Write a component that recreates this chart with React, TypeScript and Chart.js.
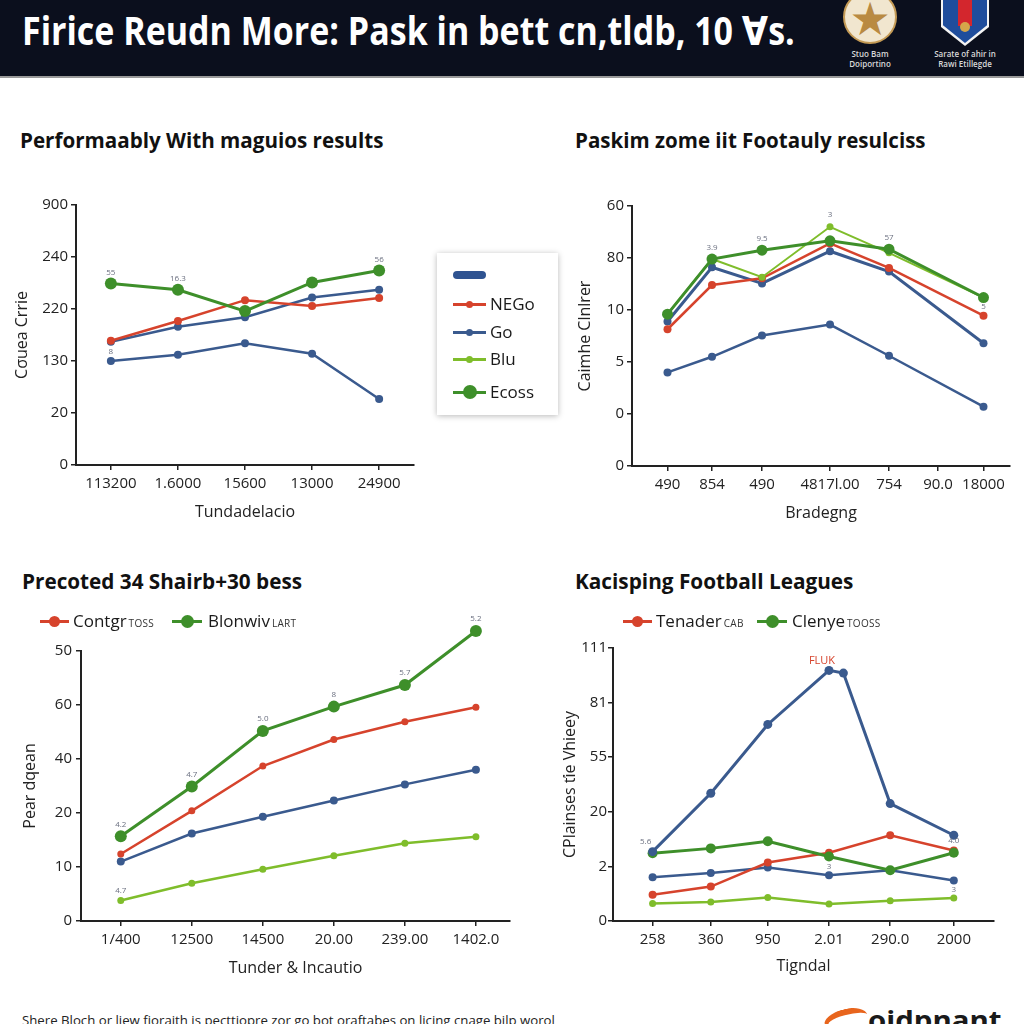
import React, { useEffect, useLayoutEffect, useRef, useState } from 'react';
import { Chart, registerables } from 'chart.js';

Chart.register(...registerables);

const FONT = "'Open Sans', 'DejaVu Sans', sans-serif";
Chart.defaults.font.family = FONT;

const RED = '#d6432c';
const BLUE = '#3a5a8e';
const DGREEN = '#3e8f2a';
const LGREEN = '#7fbd2b';

// ---------- Texts ----------
const headerTitle = 'Firice Reudn More: Pask in bett cn,tldb, 10 \u2C6Fs.';
const footerText = 'Shere Bloch or liew fioraith is pecttiopre zor go bot oraftabes on licing cnage bilp worol';
const footerBrand = 'oidpnant';

// ---------- Panel 1 ----------
const p1Title = 'Performaably With maguios results';
const p1Labels = ['113200', '1.6000', '15600', '13000', '24900'];
const p1Pos = [0, 1, 2, 3, 4];
const p1YTicks = ['0', '20', '130', '220', '240', '900'];
const p1Ecoss = [3.49, 3.37, 2.96, 3.51, 3.74];
const p1NEGo = [2.39, 2.77, 3.17, 3.06, 3.21];
const p1Go = [2.37, 2.66, 2.84, 3.22, 3.37];
const p1Team = [2.0, 2.12, 2.34, 2.14, 1.27];
const p1LegendNames = ['', 'NEGo', 'Go', 'Blu', 'Ecoss'];
const p1YTitle = 'C\u03C3uea Crrie';
const p1XTitle = 'Tundadelacio';

// ---------- Panel 2 ----------
const p2Title = 'Paskim zome iit Footauly resulciss';
const p2Labels = ['490', '854', '490', '4817l.00', '754', '90.0', '18000'];
const p2Pos = [0, 0.89, 1.89, 3.25, 4.43, 5.41, 6.32];
const p2PointIdx = [0, 1, 2, 3, 4, 6];
const p2YTicks = ['0', '0', '5', '10', '80', '60'];
const p2DarkGreen = [2.92, 3.98, 4.15, 4.33, 4.17, 3.24];
const p2LightGreen = [2.92, 3.98, 3.63, 4.6, 4.1, 3.24];
const p2Red = [2.63, 3.48, 3.61, 4.28, 3.81, 2.89];
const p2BlueUpper = [2.78, 3.82, 3.51, 4.13, 3.74, 2.36];
const p2BlueLower = [1.8, 2.1, 2.51, 2.72, 2.12, 1.14];
const p2YTitle = 'Caimhe Clnlrer';
const p2XTitle = 'Bradegng';

// ---------- Panel 3 ----------
const p3Title = 'Precoted 34 Shairb+30 bess';
const p3Labels = ['1/400', '12500', '14500', '20.00', '239.00', '1402.0'];
const p3Pos = [0, 1, 2, 3, 4, 5];
const p3YTicks = ['0', '10', '20', '40', '60', '50'];
const p3Green = [1.57, 2.49, 3.52, 3.97, 4.37, 5.37];
const p3Red = [1.24, 2.04, 2.87, 3.36, 3.69, 3.96];
const p3Blue = [1.1, 1.62, 1.93, 2.23, 2.53, 2.8];
const p3Light = [0.38, 0.7, 0.96, 1.21, 1.44, 1.56];
const p3Legend = [
  { name: 'Contgr', tag: 'TOSS' },
  { name: 'Blonwiv', tag: 'LART' },
];
const p3YTitle = 'Pear dqean';
const p3XTitle = 'Tunder & Incautio';

// ---------- Panel 4 ----------
const p4Title = 'Kacisping Football Leagues';
const p4Labels = ['258', '360', '950', '2.01', '290.0', '2000'];
const p4Pos = [0, 0.97, 1.92, 2.94, 3.96, 5.02];
const p4YTicks = ['0', '2', '20', '55', '81', '111'];
const p4BlueX = [0, 0.97, 1.92, 2.94, 3.18, 3.96, 5.02];
const p4Blue = [1.27, 2.34, 3.6, 4.59, 4.54, 2.15, 1.57];
const p4Green = [1.24, 1.33, 1.46, 1.18, 0.93, 1.25];
const p4Red = [0.48, 0.63, 1.07, 1.25, 1.57, 1.29];
const p4BlueLow = [0.8, 0.88, 0.98, 0.84, 0.93, 0.74];
const p4Light = [0.32, 0.35, 0.43, 0.31, 0.37, 0.42];
const p4Legend = [
  { name: 'Tenader', tag: 'CAB' },
  { name: 'Clenye', tag: 'TOOSS' },
];
const p4YTitle = 'CPlainses \u0165ie Vhieey';
const p4XTitle = 'Tigndal';
const p4PeakNote = 'FLUK';

const yPos = [0, 1, 2, 3, 4, 5];

// ---------- helpers ----------
function mk(label: string, xs: number[], ys: number[], color: string, r = 3.5, w = 2.5) {
  return {
    label,
    data: ys.map((y, i) => ({ x: xs[i], y })),
    borderColor: color,
    backgroundColor: color,
    pointBackgroundColor: color,
    pointBorderColor: color,
    borderWidth: w,
    pointRadius: r,
    pointHoverRadius: r,
    pointBorderWidth: 0,
    tension: 0,
    fill: false,
    clip: false as any,
  };
}

type Note = { ds: number; i: number; text: string; dx?: number; dy?: number; color?: string; size?: number; bold?: boolean };

function extrasPlugin(items: Note[]) {
  return {
    id: 'extras',
    afterDatasetsDraw(chart: any) {
      const ctx = chart.ctx;
      const area = chart.chartArea;
      // points lying outside the chart area (the library skips them)
      chart.data.datasets.forEach((_ds: any, di: number) => {
        const meta = chart.getDatasetMeta(di);
        meta.data.forEach((el: any) => {
          const o = el.options || {};
          const r = o.radius || 0;
          const m = r + 0.5;
          const outside =
            el.x < area.left - m || el.x > area.right + m || el.y < area.top - m || el.y > area.bottom + m;
          if (outside && r > 0) {
            ctx.save();
            ctx.beginPath();
            ctx.arc(el.x, el.y, r, 0, Math.PI * 2);
            ctx.fillStyle = o.backgroundColor;
            ctx.fill();
            ctx.restore();
          }
        });
      });
      items.forEach((n) => {
        const el = chart.getDatasetMeta(n.ds).data[n.i];
        if (!el) return;
        ctx.save();
        ctx.font = `${n.bold ? '600 ' : ''}${n.size || 8}px ${FONT}`;
        ctx.fillStyle = n.color || '#6b7080';
        ctx.textAlign = 'center';
        ctx.textBaseline = 'middle';
        ctx.fillText(n.text, el.x + (n.dx || 0), el.y + (n.dy ?? -11));
        ctx.restore();
      });
    },
  };
}

type Spec = {
  canvas: { x: number; y: number; w: number; h: number };
  area: { l: number; t: number; r: number; b: number };
  yTitleX: number;
  xTitleY: number;
  xMin: number;
  xMax: number;
  xPos: number[];
  xLabels: string[];
  yLabels: string[];
  yTitle: string;
  xTitle: string;
  datasets: any[];
  notes: Note[];
  yTickPad?: number;
};

function buildConfig(spec: Spec) {
  const tf = 16;
  const tlh = tf * 1.2;
  const padLeft = spec.yTitleX - spec.canvas.x - tlh / 2;
  const yWidth = spec.area.l - spec.canvas.x - padLeft;
  const padTop = spec.area.t - spec.canvas.y;
  const padRight = spec.canvas.x + spec.canvas.w - spec.area.r;
  const xBottom = spec.xTitleY + tlh / 2;
  const xHeight = xBottom - spec.area.b;
  const padBottom = spec.canvas.y + spec.canvas.h - xBottom;
  const tickFont = { family: FONT, size: 15 };
  const gridCfg = { drawOnChartArea: false, drawTicks: true, tickLength: 5, color: '#222', lineWidth: 1.5 };
  const borderCfg = { display: true, color: '#222', width: 2 };
  return {
    type: 'line' as const,
    data: { datasets: spec.datasets },
    options: {
      responsive: false,
      animation: false as const,
      events: [],
      layout: { padding: { left: padLeft, top: padTop, right: padRight, bottom: padBottom } },
      plugins: { legend: { display: false }, tooltip: { enabled: false } },
      scales: {
        x: {
          type: 'linear' as const,
          min: spec.xMin,
          max: spec.xMax,
          afterBuildTicks: (s: any) => {
            s.ticks = spec.xPos.map((v) => ({ value: v }));
          },
          afterFit: (s: any) => {
            s.height = xHeight;
          },
          ticks: {
            autoSkip: false,
            maxRotation: 0,
            padding: 5,
            color: '#222',
            font: tickFont,
            callback: (_v: any, i: number) => spec.xLabels[i],
          },
          grid: gridCfg,
          border: borderCfg,
          title: { display: true, text: spec.xTitle, color: '#222', font: { family: FONT, size: tf }, padding: 0 },
        },
        y: {
          type: 'linear' as const,
          min: 0,
          max: 5,
          afterBuildTicks: (s: any) => {
            s.ticks = yPos.map((v) => ({ value: v }));
          },
          afterFit: (s: any) => {
            s.width = yWidth;
          },
          ticks: {
            autoSkip: false,
            padding: spec.yTickPad ?? 3,
            color: '#222',
            font: tickFont,
            callback: (_v: any, i: number) => spec.yLabels[i],
          },
          grid: gridCfg,
          border: borderCfg,
          title: { display: true, text: spec.yTitle, color: '#222', font: { family: FONT, size: tf }, padding: 0 },
        },
      },
    },
    plugins: [extrasPlugin(spec.notes)],
  };
}

function LineChart({ spec }: { spec: Spec }) {
  const ref = useRef<HTMLCanvasElement>(null);
  useEffect(() => {
    if (!ref.current) return;
    const c = new Chart(ref.current, buildConfig(spec) as any);
    return () => c.destroy();
  }, []);
  const { x, y, w, h } = spec.canvas;
  return (
    <canvas
      ref={ref}
      width={w}
      height={h}
      style={{ position: 'absolute', left: x, top: y, width: w, height: h }}
    />
  );
}

function FitText({ text, left, top, width, size, weight = 700, color = '#111', letterSpacing = 0 }: any) {
  const ref = useRef<HTMLSpanElement>(null);
  const [sx, setSx] = useState(1);
  useLayoutEffect(() => {
    if (ref.current) {
      const w = ref.current.offsetWidth;
      if (w > 0) setSx(width / w);
    }
  }, []);
  return (
    <span
      ref={ref}
      style={{
        position: 'absolute',
        left,
        top,
        fontFamily: FONT,
        fontSize: size,
        fontWeight: weight,
        color,
        lineHeight: 1,
        whiteSpace: 'nowrap',
        letterSpacing,
        transform: `scaleX(${sx})`,
        transformOrigin: 'left top',
      }}
    >
      {text}
    </span>
  );
}

function Marker({ x, y, w, color, r }: any) {
  return (
    <>
      <div style={{ position: 'absolute', left: x, top: y - 1.5, width: w, height: 3, background: color }} />
      <div
        style={{
          position: 'absolute',
          left: x + w / 2 - r,
          top: y - r,
          width: r * 2,
          height: r * 2,
          borderRadius: '50%',
          background: color,
        }}
      />
    </>
  );
}

function LegendEntry({ x, y, w, color, r, name, tag, textX }: any) {
  return (
    <>
      <Marker x={x} y={y} w={w} color={color} r={r} />
      <span
        style={{
          position: 'absolute',
          left: textX,
          top: y - 11,
          fontFamily: FONT,
          fontSize: 17,
          lineHeight: '22px',
          color: '#1a1a1a',
          whiteSpace: 'nowrap',
        }}
      >
        {name}
        {tag ? (
          <span style={{ fontSize: 10, marginLeft: 2, letterSpacing: 0.3, color: '#333' }}>{tag}</span>
        ) : null}
      </span>
    </>
  );
}

// ---------- specs ----------
const spec1: Spec = {
  canvas: { x: 0, y: 190, w: 440, h: 340 },
  area: { l: 76, t: 205, r: 414, b: 465 },
  yTitleX: 22,
  xTitleY: 512,
  xMin: -0.52,
  xMax: 4.52,
  xPos: p1Pos,
  xLabels: p1Labels,
  yLabels: p1YTicks,
  yTitle: p1YTitle,
  xTitle: p1XTitle,
  datasets: [
    mk('Ecoss', p1Pos, p1Ecoss, DGREEN, 6, 3),
    mk('NEGo', p1Pos, p1NEGo, RED, 4, 2.5),
    mk('Go', p1Pos, p1Go, BLUE, 4, 2.5),
    mk('Team', p1Pos, p1Team, BLUE, 4, 2.5),
  ],
  notes: [
    { ds: 0, i: 0, text: '55' },
    { ds: 0, i: 1, text: '16.3' },
    { ds: 0, i: 4, text: '56' },
    { ds: 2, i: 0, text: '8', dy: 10 },
  ],
};

const spec2: Spec = {
  canvas: { x: 560, y: 190, w: 464, h: 340 },
  area: { l: 632, t: 206, r: 1010, b: 466 },
  yTitleX: 585,
  xTitleY: 513,
  xMin: -0.71,
  xMax: 6.85,
  xPos: p2Pos,
  xLabels: p2Labels,
  yLabels: p2YTicks,
  yTitle: p2YTitle,
  xTitle: p2XTitle,
  datasets: [
    mk('Dark green', p2PointIdx.map((k) => p2Pos[k]), p2DarkGreen, DGREEN, 5.5, 3),
    mk('Light green', p2PointIdx.map((k) => p2Pos[k]), p2LightGreen, LGREEN, 3.5, 2),
    mk('Red', p2PointIdx.map((k) => p2Pos[k]), p2Red, RED, 4, 2.5),
    mk('Blue', p2PointIdx.map((k) => p2Pos[k]), p2BlueUpper, BLUE, 4, 3),
    mk('Blue 2', p2PointIdx.map((k) => p2Pos[k]), p2BlueLower, BLUE, 4, 2.5),
  ],
  notes: [
    { ds: 0, i: 1, text: '3.9' },
    { ds: 0, i: 2, text: '9.5' },
    { ds: 1, i: 3, text: '3', dy: -12 },
    { ds: 0, i: 4, text: '57' },
    { ds: 2, i: 5, text: '5', dy: -9 },
  ],
};

const spec3: Spec = {
  canvas: { x: 0, y: 600, w: 520, h: 390 },
  area: { l: 81, t: 651, r: 510, b: 921 },
  yTitleX: 30,
  xTitleY: 968,
  xMin: -0.56,
  xMax: 5.48,
  xPos: p3Pos,
  xLabels: p3Labels,
  yLabels: p3YTicks,
  yTitle: p3YTitle,
  xTitle: p3XTitle,
  yTickPad: 4,
  datasets: [
    mk(p3Legend[1].name, p3Pos, p3Green, DGREEN, 6, 3),
    mk(p3Legend[0].name, p3Pos, p3Red, RED, 3.5, 2.5),
    mk('Blue', p3Pos, p3Blue, BLUE, 4, 2.5),
    mk('Light', p3Pos, p3Light, LGREEN, 3.5, 2.5),
  ],
  notes: [
    { ds: 0, i: 0, text: '4.2', dy: -12 },
    { ds: 0, i: 1, text: '4.7', dy: -12 },
    { ds: 0, i: 2, text: '5.0', dy: -12 },
    { ds: 0, i: 3, text: '8', dy: -12 },
    { ds: 0, i: 4, text: '5.7', dy: -12 },
    { ds: 0, i: 5, text: '5.2', dy: -12 },
    { ds: 3, i: 0, text: '4.7', dy: -10 },
  ],
};

const spec4: Spec = {
  canvas: { x: 540, y: 600, w: 484, h: 390 },
  area: { l: 613, t: 648, r: 994, b: 921 },
  yTitleX: 570,
  xTitleY: 966,
  xMin: -0.66,
  xMax: 5.69,
  xPos: p4Pos,
  xLabels: p4Labels,
  yLabels: p4YTicks,
  yTitle: p4YTitle,
  xTitle: p4XTitle,
  yTickPad: 1,
  datasets: [
    mk('Blue', p4BlueX, p4Blue, BLUE, 4.5, 3),
    mk(p4Legend[1].name, p4Pos, p4Green, DGREEN, 5, 3),
    mk(p4Legend[0].name, p4Pos, p4Red, RED, 4, 2.5),
    mk('Blue 2', p4Pos, p4BlueLow, BLUE, 4, 2.5),
    mk('Light', p4Pos, p4Light, LGREEN, 3.5, 2.5),
  ],
  notes: [
    { ds: 0, i: 3, text: p4PeakNote, dx: -7, dy: -10, color: RED, size: 11 },
    { ds: 0, i: 0, text: '5.6', dx: -7, dy: -10 },
    { ds: 2, i: 5, text: '4.0', dy: -10 },
    { ds: 1, i: 3, text: '3', dy: 10 },
    { ds: 3, i: 5, text: '3', dy: 9 },
  ],
};

function HeaderLogos() {
  return (
    <>
      <div
        style={{
          position: 'absolute',
          left: 843,
          top: -10,
          width: 54,
          height: 54,
          borderRadius: '50%',
          background: '#f1e6cf',
          border: '2px solid #c49a55',
          boxSizing: 'border-box',
          overflow: 'hidden',
        }}
      >
        <div
          style={{
            position: 'absolute',
            left: 0,
            top: 4,
            width: 50,
            textAlign: 'center',
            fontSize: 46,
            lineHeight: '46px',
            color: '#b98a42',
            fontFamily: "'DejaVu Sans', sans-serif",
          }}
        >
          {'\u2605'}
        </div>
      </div>
      <div style={{ position: 'absolute', left: 830, top: 49, width: 80, textAlign: 'center', color: '#d8d8d8', fontFamily: FONT, fontSize: 8, lineHeight: '10px', fontWeight: 600 }}>
        Stuo Bam
        <br />
        Doiportino
      </div>
      <div
        style={{
          position: 'absolute',
          left: 941,
          top: -4,
          width: 48,
          height: 50,
          background: '#f4f4f4',
          clipPath: 'polygon(0 0,100% 0,100% 62%,50% 100%,0 62%)',
        }}
      >
        <div
          style={{
            position: 'absolute',
            left: 2,
            top: 0,
            width: 44,
            height: 47,
            background: '#1f4d9c',
            clipPath: 'polygon(0 0,100% 0,100% 62%,50% 100%,0 62%)',
          }}
        >
          <div style={{ position: 'absolute', left: 15, top: 0, width: 14, height: 30, background: '#d3262d' }} />
          <div style={{ position: 'absolute', left: 17, top: 26, width: 10, height: 10, borderRadius: '50%', background: '#d6a54a' }} />
        </div>
      </div>
      <div style={{ position: 'absolute', left: 915, top: 49, width: 100, textAlign: 'center', color: '#d8d8d8', fontFamily: FONT, fontSize: 8, lineHeight: '10px', fontWeight: 600 }}>
        Sarate of ahir in
        <br />
        Rawi Etillegde
      </div>
    </>
  );
}

export default function App() {
  return (
    <div
      style={{
        position: 'absolute',
        left: 0,
        top: 0,
        width: 1024,
        height: 1024,
        background: '#ffffff',
        overflow: 'hidden',
        fontFamily: FONT,
      }}
    >
      {/* header */}
      <div style={{ position: 'absolute', left: 0, top: 0, width: 1024, height: 76, background: '#0b0f1d', borderBottom: '2px solid #9a9a9a' }} />
      <FitText text={headerTitle} left={22} top={10.4} width={773} size={39} color="#ffffff" />
      <HeaderLogos />

      {/* panel titles */}
      <FitText text={p1Title} left={20} top={130.4} width={363} size={21} />
      <FitText text={p2Title} left={575} top={130.4} width={351} size={21} />
      <FitText text={p3Title} left={22} top={571.4} width={280} size={21} />
      <FitText text={p4Title} left={575} top={571.4} width={278} size={21} />

      {/* charts */}
      <LineChart spec={spec1} />
      <LineChart spec={spec2} />
      <LineChart spec={spec3} />
      <LineChart spec={spec4} />

      {/* panel 1 legend box */}
      <div
        style={{
          position: 'absolute',
          left: 437,
          top: 253,
          width: 121,
          height: 162,
          background: '#fff',
          boxShadow: '0 1px 6px rgba(0,0,0,0.28)',
        }}
      />
      <div style={{ position: 'absolute', left: 453, top: 271, width: 33, height: 8, borderRadius: 4, background: '#2f5391' }} title={p1LegendNames[0]} />
      <LegendEntry x={453} y={304} w={33} color={RED} r={3.5} name={p1LegendNames[1]} textX={490} />
      <LegendEntry x={453} y={332} w={33} color={BLUE} r={3.5} name={p1LegendNames[2]} textX={490} />
      <LegendEntry x={453} y={359} w={33} color={LGREEN} r={3.5} name={p1LegendNames[3]} textX={490} />
      <LegendEntry x={453} y={392} w={33} color={DGREEN} r={7} name={p1LegendNames[4]} textX={490} />

      {/* panel 3 legend */}
      <LegendEntry x={40} y={621} w={29} color={RED} r={5.5} name={p3Legend[0].name} tag={p3Legend[0].tag} textX={73} />
      <LegendEntry x={172} y={621} w={30} color={DGREEN} r={6.5} name={p3Legend[1].name} tag={p3Legend[1].tag} textX={208} />

      {/* panel 4 legend */}
      <LegendEntry x={623} y={621} w={29} color={RED} r={5.5} name={p4Legend[0].name} tag={p4Legend[0].tag} textX={656} />
      <LegendEntry x={757} y={621} w={30} color={DGREEN} r={6.5} name={p4Legend[1].name} tag={p4Legend[1].tag} textX={792} />

      {/* footer */}
      <FitText text={footerText} left={22} top={1015} width={533} size={12} weight={400} color="#222" />
      <div
        style={{
          position: 'absolute',
          left: 824,
          top: 1009,
          width: 44,
          height: 22,
          borderRadius: '50%',
          borderTop: '6px solid #e8651d',
          borderLeft: '4px solid #e8651d',
          boxSizing: 'border-box',
          transform: 'rotate(-14deg)',
        }}
      />
      <FitText text={footerBrand} left={868} top={1006} width={134} size={27} color="#1a1a1a" />
    </div>
  );
}
